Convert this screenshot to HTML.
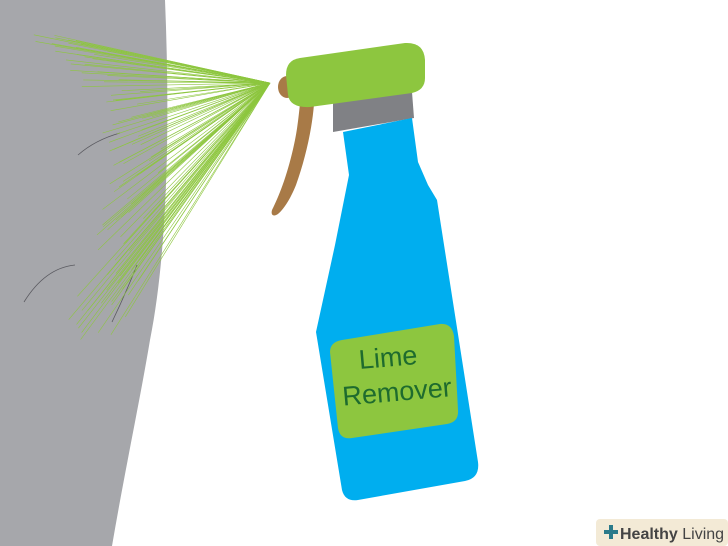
<!DOCTYPE html>
<html><head><meta charset="utf-8"><style>
html,body{margin:0;padding:0;background:#fff}
svg{display:block}
</style></head><body>
<svg id="s" width="728" height="546" viewBox="0 0 728 546" xmlns="http://www.w3.org/2000/svg">
<rect width="728" height="546" fill="#fff"/>
<path d="M0,0 L165,0 C170,120 168,250 150,340 C140,400 125,470 112,546 L0,546 Z" fill="#a6a7ab"/>
<g stroke="#5a5a60" stroke-width="0.8" fill="none">
<path d="M78,155 Q95,140 120,133"/>
<path d="M24,302 Q45,268 75,265"/>
<path d="M112,322 Q125,295 137,265"/>
</g>
<g id="spray" stroke="#8dc63f" stroke-width="0.6" fill="none"></g>
<path d="M300,104 L314,104 C312,130 305,160 296,185 C290,200 283,210 278,214 C272,218 270,213 273,208 C282,190 290,165 295,140 C298,125 299,112 300,104 Z" fill="#a87a47"/>
<ellipse cx="287" cy="87" rx="9" ry="11" fill="#a87a47"/>
<path d="M333,102 L412,92 L414,118 L333,132 Z" fill="#808185"/>
<path d="M300,58 L405,43 Q424,42 425,60 L425,78 Q425,90 412,93 L310,107 Q290,108 288,95 L286,75 Q286,60 300,58 Z" fill="#8dc63f"/>
<path d="M343,132 L412,118 L418,162 L428,185 L437,200 L478,462 Q480,478 465,481 L358,500 Q345,502 342,490 L316,332 L335,245 L349,175 Z" fill="#00aeef"/>
<path d="M342,340 L440,324 Q452,323 454,336 L458,410 Q459,422 447,424 L352,438 Q340,440 338,428 L330,352 Q330,342 342,340 Z" fill="#8dc63f"/>
<g transform="rotate(-5 395 380)" fill="#1e6b2e" font-family="'Liberation Sans',sans-serif" font-size="27" text-anchor="middle">
<text x="390" y="366">Lime</text>
<text x="396" y="401">Remover</text>
</g>
<rect x="596" y="519" width="132" height="27" rx="4" fill="#f3ead6"/>
<path d="M604,532 h14 M611,525 v14" stroke="#2a7a8a" stroke-width="4"/>
<text x="620" y="539" font-family="'Liberation Sans',sans-serif" font-size="16" fill="#444"><tspan font-weight="bold">Healthy</tspan> Living</text>
</svg>
<script>
var g=document.getElementById('spray');
var pts=[[25,35],[60,60],[95,110],[110,160],[100,220],[80,280],[60,340]];
var N=110;
function lerp(t){var n=pts.length-1,f=t*n,i=Math.min(Math.floor(f),n-1),u=f-i;return[pts[i][0]+(pts[i+1][0]-pts[i][0])*u,pts[i][1]+(pts[i+1][1]-pts[i][1])*u];}
var seed=7;function rnd(){seed=(seed*9301+49297)%233280;return seed/233280;}
for(var k=0;k<N;k++){var p=lerp(k/(N-1));var x=p[0]+rnd()*60,y=p[1]+(rnd()-0.5)*6;
var l=document.createElementNS('http://www.w3.org/2000/svg','line');
l.setAttribute('x1',270);l.setAttribute('y1',83);l.setAttribute('x2',x);l.setAttribute('y2',y);g.appendChild(l);}
</script>
</body></html>
